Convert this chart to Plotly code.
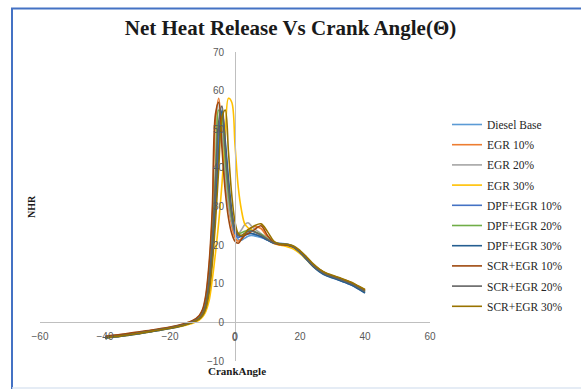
import plotly.graph_objects as go

# Crank angle (degrees) shared by all test runs
crank_angle = [-40, -35, -30, -25, -20, -16, -13, -11, -10, -9, -8, -7, -6, -5, -4, -3, -2, -1,
               0, 1, 2, 3, 4, 5, 6, 8, 10, 12, 14, 16, 18, 20, 22, 24, 26, 28, 30, 32, 34, 36, 38, 40]

diesel_base = [-4.0, -3.5, -2.9, -2.2, -1.5, -0.7, 0.1, 1.0, 2.0, 4.0, 9.0, 18.0, 31.0, 47.0, 54.0, 46.0, 36.0, 28.0,
               23.5, 21.5, 21.3, 21.8, 22.3, 22.5, 22.4, 22.0, 21.3, 20.5, 20.4, 20.3, 19.7, 18.3, 16.5, 14.7, 13.3, 12.3,
               11.7, 11.1, 10.5, 9.8, 8.9, 7.9]
egr_10 = [-3.7, -3.2, -2.6, -2.0, -1.3, -0.5, 0.4, 1.6, 3.0, 6.5, 14.0, 27.0, 52.0, 58.0, 48.0, 37.0, 30.0, 25.0,
          22.0, 21.0, 21.8, 23.0, 24.0, 24.5, 24.8, 24.3, 22.0, 20.4, 20.0, 19.9, 19.4, 18.2, 16.6, 14.9, 13.6, 12.6,
          12.0, 11.4, 10.8, 10.1, 9.2, 8.3]
egr_20 = [-3.8, -3.3, -2.7, -2.1, -1.4, -0.6, 0.3, 1.3, 2.5, 5.5, 12.0, 23.0, 40.0, 57.0, 50.0, 38.0, 30.0, 26.0,
          23.5, 23.0, 24.0, 25.3, 25.8, 25.0, 24.2, 23.0, 21.8, 20.6, 20.2, 20.0, 19.5, 18.3, 16.6, 14.8, 13.5, 12.5,
          11.9, 11.3, 10.7, 10.0, 9.1, 8.2]
egr_30 = [-4.1, -3.6, -3.0, -2.3, -1.6, -0.9, -0.2, 0.6, 1.4, 2.8, 5.5, 11.0, 18.0, 26.0, 36.0, 48.0, 58.0, 57.0,
          46.0, 35.0, 29.0, 25.5, 24.5, 24.0, 23.5, 22.5, 21.5, 20.5, 20.0, 19.6, 19.0, 17.8, 16.2, 14.5, 13.3, 12.4,
          11.9, 11.3, 10.7, 10.0, 9.1, 8.2]
dpf_egr_10 = [-4.0, -3.5, -2.9, -2.2, -1.5, -0.7, 0.1, 1.1, 2.2, 4.5, 10.0, 20.0, 34.0, 50.0, 54.0, 44.0, 34.0, 27.0,
              23.0, 22.0, 22.3, 22.8, 23.0, 23.0, 22.8, 22.2, 21.3, 20.6, 20.4, 20.2, 19.6, 18.2, 16.4, 14.6, 13.2, 12.2,
              11.6, 11.0, 10.3, 9.6, 8.7, 7.7]
dpf_egr_20 = [-3.9, -3.4, -2.8, -2.1, -1.4, -0.6, 0.2, 1.2, 2.4, 5.0, 11.0, 22.0, 38.0, 55.0, 53.0, 42.0, 33.0, 27.0,
              24.0, 23.0, 23.2, 23.6, 23.8, 23.8, 23.5, 22.8, 21.6, 20.6, 20.3, 20.1, 19.5, 18.2, 16.5, 14.7, 13.4, 12.4,
              11.8, 11.2, 10.6, 9.9, 9.0, 8.0]
dpf_egr_30 = [-4.1, -3.6, -3.0, -2.3, -1.6, -0.8, 0.0, 0.9, 1.8, 3.8, 8.5, 17.0, 29.0, 44.0, 55.0, 47.0, 37.0, 29.0,
              24.0, 22.5, 22.3, 22.6, 22.9, 23.0, 22.8, 22.2, 21.3, 20.5, 20.3, 20.1, 19.5, 18.1, 16.3, 14.5, 13.1, 12.1,
              11.5, 10.9, 10.3, 9.6, 8.6, 7.6]
scr_egr_10 = [-3.6, -3.1, -2.5, -1.9, -1.2, -0.4, 0.5, 1.8, 3.3, 7.0, 15.0, 29.0, 54.0, 57.0, 45.0, 34.0, 27.0, 23.0,
              21.0, 20.5, 21.5, 22.5, 23.0, 23.5, 24.0, 25.0, 22.5, 20.6, 20.1, 20.0, 19.5, 18.4, 16.8, 15.0, 13.7, 12.7,
              12.1, 11.5, 10.9, 10.2, 9.3, 8.4]
scr_egr_20 = [-3.9, -3.4, -2.8, -2.1, -1.4, -0.6, 0.2, 1.2, 2.3, 4.8, 10.5, 21.0, 36.0, 52.0, 56.0, 45.0, 35.0, 28.0,
              24.0, 22.5, 22.5, 23.0, 23.5, 23.6, 23.4, 22.6, 21.5, 20.6, 20.3, 20.1, 19.5, 18.2, 16.5, 14.7, 13.4, 12.4,
              11.8, 11.2, 10.6, 9.9, 9.0, 8.0]
scr_egr_30 = [-4.0, -3.5, -2.9, -2.2, -1.5, -0.8, 0.0, 0.9, 1.8, 3.6, 7.5, 15.0, 26.0, 40.0, 53.0, 55.0, 44.0, 33.0,
              26.0, 23.0, 22.5, 23.0, 24.0, 24.5, 25.0, 25.5, 23.5, 21.0, 20.3, 20.2, 19.8, 18.6, 17.0, 15.2, 13.8, 12.8,
              12.2, 11.6, 11.0, 10.3, 9.4, 8.5]

series_names = ["Diesel Base", "EGR 10%", "EGR 20%", "EGR 30%", "DPF+EGR 10%", "DPF+EGR 20%",
                "DPF+EGR 30%", "SCR+EGR 10%", "SCR+EGR 20%", "SCR+EGR 30%"]
series_values = [diesel_base, egr_10, egr_20, egr_30, dpf_egr_10, dpf_egr_20,
                 dpf_egr_30, scr_egr_10, scr_egr_20, scr_egr_30]
series_colors = ["#5B9BD5", "#ED7D31", "#A5A5A5", "#FFC000", "#4472C4", "#70AD47",
                 "#255E91", "#9E480E", "#636363", "#997300"]

x_ticks = [-60, -40, -20, 0, 20, 40, 60]
y_ticks = [-10, 0, 10, 20, 30, 40, 50, 60, 70]

fig = go.Figure()
for name, vals, col in zip(series_names, series_values, series_colors):
    fig.add_trace(go.Scatter(
        x=crank_angle, y=vals, name=name, mode="lines", legendgroup=name,
        line=dict(color=col, width=1.6, shape="spline", smoothing=1.0),
    ))

W, H = 581, 389
L, R, T, B = 40, 151, 52, 28
pw, ph = W - L - R, H - T - B


def px_x(p):
    return (p - L) / pw


def px_y(p):
    return (H - B - p) / ph


serif = "Liberation Serif, Times New Roman, serif"
tick_font = dict(family="Liberation Sans Narrow, Liberation Sans, Arial", size=10, color="#595959")

fig.update_layout(
    width=W, height=H,
    margin=dict(l=L, r=R, t=T, b=B),
    paper_bgcolor="white", plot_bgcolor="white",
    title=dict(text="<b>Net Heat Release Vs Crank Angle(Θ)</b>", x=0.5, xref="container",
               y=1 - 28 / H, yanchor="middle", xanchor="center",
               font=dict(family=serif, size=21, color="#1a1a1a")),
    xaxis=dict(range=[-60, 60], tickvals=x_ticks, showgrid=False, zeroline=False,
               showline=True, linecolor="#BFBFBF", linewidth=1, ticks="",
               anchor="free", position=10 / 80, tickfont=tick_font, ticklabelstandoff=5),
    yaxis=dict(range=[-10, 70], tickvals=y_ticks, showgrid=False, zeroline=False,
               showline=True, linecolor="#BFBFBF", linewidth=1, ticks="",
               anchor="free", position=0.5, tickfont=tick_font, ticklabelstandoff=9),
    legend=dict(x=px_x(447), y=px_y(110), xanchor="left", yanchor="top",
                font=dict(family=serif, size=11.5, color="#262626"),
                itemwidth=30, bgcolor="rgba(0,0,0,0)", tracegroupgap=1.2),
    showlegend=True,
)

# The x tick label at the axis crossing
fig.add_annotation(text="0", xref="x", yref="paper", x=0, y=px_y(337),
                   showarrow=False, xanchor="center", yanchor="middle", font=tick_font)

# Axis titles placed as text
fig.add_annotation(text="<b>CrankAngle</b>", xref="paper", yref="paper", x=px_x(237), y=px_y(371),
                   showarrow=False, xanchor="center", yanchor="middle",
                   font=dict(family=serif, size=11, color="#1a1a1a"))
fig.add_annotation(text="<b>NHR</b>", xref="paper", yref="paper", x=px_x(32), y=px_y(207),
                   showarrow=False, textangle=-90, xanchor="center", yanchor="middle",
                   font=dict(family=serif, size=10, color="#1a1a1a"))

# Chart frame
fig.add_shape(type="line", xref="paper", yref="paper", x0=px_x(12), x1=px_x(12), y0=px_y(8), y1=px_y(392),
              line=dict(color="#4472C4", width=2))
fig.add_shape(type="line", xref="paper", yref="paper", x0=px_x(11), x1=px_x(590), y0=px_y(8.5), y1=px_y(8.5),
              line=dict(color="#4472C4", width=2))
fig.add_shape(type="line", xref="paper", yref="paper", x0=px_x(12), x1=px_x(590), y0=px_y(388), y1=px_y(388),
              line=dict(color="#DCE6F2", width=1.5))

fig.write_html("out.html")
